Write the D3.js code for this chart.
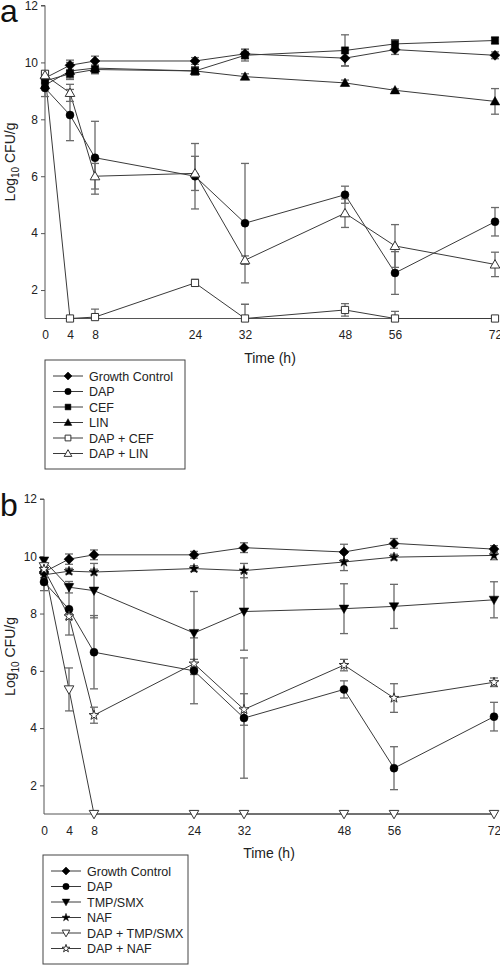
<!DOCTYPE html>
<html><head><meta charset="utf-8">
<script src="https://cdn.jsdelivr.net/npm/d3@7"></script>
<style>
html,body{margin:0;padding:0;background:#fff;}
svg{display:block;font-family:"Liberation Sans",Arial,sans-serif;}
</style></head>
<body>
<svg id="chart" width="500" height="965"></svg>
<script>
// ---- data ----
const times = [0, 4, 8, 24, 32, 48, 56, 72];
const xTicks = [0, 4, 8, 24, 32, 48, 56, 72];
const yTicks = [2, 4, 6, 8, 10, 12];

const gcMean = [9.45, 9.9, 10.05, 10.05, 10.3, 10.15, 10.45, 10.25];
const gcErr  = [0.1, 0.18, 0.17, 0.12, 0.17, 0.27, 0.17, 0.12];
const dapMean = [9.1, 8.15, 6.65, 6.0, 4.35, 5.35, 2.6, 4.4];
const dapErr  = [0.3, 0.9, 1.28, 1.15, 2.1, 0.3, 0.75, 0.5];

// panel a
const cefMean = [9.35, 9.6, 9.75, 9.7, 10.25, 10.42, 10.65, 10.77];
const cefErr  = [0.1, 0.15, 0.15, 0.15, 0.2, 0.55, 0.15, 0.12];
const linMean = [9.2, 9.7, 9.8, 9.7, 9.5, 9.28, 9.02, 8.63];
const linErr  = [0.1, 0.3, 0.1, 0.1, 0.1, 0.1, 0.05, 0.45];
const dapCefMean = [9.6, 1.0, 1.05, 2.25, 1.0, 1.3, 1.0, 1.0];
const dapCefErr  = [0.1, 0, 0.28, 0.12, 0.5, 0.22, 0.25, 0];
const dapLinMean = [9.55, 8.93, 6.0, 6.1, 3.05, 4.7, 3.55, 2.9];
const dapLinErr  = [0.1, 0.3, 0.45, 0.6, 0.15, 0.5, 0.75, 0.43];

// panel b
const tmpMean = [9.85, 8.92, 8.8, 7.32, 8.07, 8.17, 8.25, 8.48];
const tmpErr  = [0.1, 0.2, 0.95, 1.45, 1.35, 0.87, 0.77, 0.63];
const nafMean = [9.35, 9.48, 9.45, 9.57, 9.5, 9.8, 9.97, 10.03];
const nafErr  = [0.1, 0.1, 0.1, 0.1, 0.25, 0.3, 0.1, 0.15];
const dapTmpMean = [9.65, 5.35, 1.0, 1.0, 1.0, 1.0, 1.0, 1.0];
const dapTmpErr  = [0.1, 0.75, 0.1, 0.1, 0, 0.1, 0, 0];
const dapNafMean = [9.55, 7.9, 4.45, 6.25, 4.65, 6.2, 5.05, 5.6];
const dapNafErr  = [0.1, 0.1, 0.28, 0.15, 0.55, 0.2, 0.5, 0.15];

const panelA = [
  {name: "Growth Control", mean: gcMean, err: gcErr, shape: "diamond", open: false},
  {name: "DAP", mean: dapMean, err: dapErr, shape: "circle", open: false},
  {name: "CEF", mean: cefMean, err: cefErr, shape: "square", open: false},
  {name: "LIN", mean: linMean, err: linErr, shape: "triangle", open: false},
  {name: "DAP + CEF", mean: dapCefMean, err: dapCefErr, shape: "square", open: true},
  {name: "DAP + LIN", mean: dapLinMean, err: dapLinErr, shape: "triangle", open: true}
];
const panelB = [
  {name: "Growth Control", mean: gcMean, err: gcErr, shape: "diamond", open: false},
  {name: "DAP", mean: dapMean, err: dapErr, shape: "circle", open: false},
  {name: "TMP/SMX", mean: tmpMean, err: tmpErr, shape: "down", open: false},
  {name: "NAF", mean: nafMean, err: nafErr, shape: "star", open: false},
  {name: "DAP + TMP/SMX", mean: dapTmpMean, err: dapTmpErr, shape: "down", open: true},
  {name: "DAP + NAF", mean: dapNafMean, err: dapNafErr, shape: "star", open: true}
];

const svg = d3.select("#chart");
const LINE = "#3a3a3a", ERR = "#6a6a6a", AXIS = "#555";

function shapePath(shape, k) {
  k = k || 1;
  switch (shape) {
    case "diamond": { const r = 5 * k; return `M0,${-r}L${r},0L0,${r}L${-r},0Z`; }
    case "circle": return d3.symbol(d3.symbolCircle, 50 * k * k)();
    case "square": { const h = 3.6 * k; return `M${-h},${-h}H${h}V${h}H${-h}Z`; }
    case "triangle": { const r = 4.8 * k; return `M0,${-r}L${r},${r * 0.75}L${-r},${r * 0.75}Z`; }
    case "down": { const r = 4.8 * k; return `M0,${r}L${r},${-r * 0.75}L${-r},${-r * 0.75}Z`; }
    case "star": return d3.symbol(d3.symbolStar, 30 * k * k)();
  }
}

function drawPanel(cfg) {
  const {series, x0, x1, yTop, yBot, letter, letterY, legend, id} = cfg;
  const x = d3.scaleLinear().domain([0, 72]).range([x0, x1]);
  const y = d3.scaleLinear().domain([1, 12]).range([yBot, yTop]);
  const g = svg.append("g");

  g.append("clipPath").attr("id", "clip" + id).append("rect")
    .attr("x", x0 - 20).attr("y", yTop - 20).attr("width", x1 - x0 + 40).attr("height", yBot - yTop + 20);

  // axes
  const yAxis = d3.axisLeft(y).tickValues(yTicks).tickSize(4).tickPadding(3).tickFormat(d3.format("d"));
  const ya = g.append("g").attr("transform", `translate(${x0},0)`).call(yAxis);
  ya.select(".domain").attr("stroke", AXIS).attr("d", `M-4,${yTop}H0V${yBot}`);
  ya.selectAll(".tick line").attr("stroke", AXIS);
  ya.selectAll("text").attr("font-size", 12).attr("fill", "#222").attr("font-family", "Liberation Sans, Arial, sans-serif");

  const xAxis = d3.axisBottom(x).tickValues(xTicks).tickSize(0).tickPadding(12).tickFormat(d3.format("d"));
  const xa = g.append("g").attr("transform", `translate(0,${yBot})`).call(xAxis);
  xa.select(".domain").attr("stroke", AXIS).attr("d", `M${x0},0H${x1}`);
  xa.selectAll("text").attr("font-size", 12).attr("fill", "#222").attr("font-family", "Liberation Sans, Arial, sans-serif");

  // titles
  g.append("text").attr("x", (x0 + x1) / 2).attr("y", yBot + 44).attr("text-anchor", "middle")
    .attr("font-size", 14).attr("fill", "#222").text("Time (h)");
  const yl = g.append("text").attr("transform", `translate(15,${(yTop + yBot) / 2}) rotate(-90)`)
    .attr("text-anchor", "middle").attr("font-size", 14).attr("fill", "#222");
  yl.append("tspan").text("Log");
  yl.append("tspan").attr("font-size", 10).attr("dy", 4).text("10");
  yl.append("tspan").attr("dy", -4).text(" CFU/g");

  g.append("text").attr("x", 0).attr("y", letterY).attr("font-size", 32).attr("fill", "#111").text(letter);

  const line = d3.line().x((d, i) => x(times[i])).y(d => y(d));

  // lines
  g.append("g").selectAll("path").data(series).join("path")
    .attr("d", s => line(s.mean)).attr("fill", "none").attr("stroke", LINE).attr("stroke-width", 1);

  // error bars
  const eb = g.append("g").attr("clip-path", `url(#clip${id})`);
  series.forEach(s => {
    s.mean.forEach((m, i) => {
      const e = s.err[i];
      if (!e) return;
      const cx = x(times[i]);
      const yh = y(m + e), yl2 = y(m - e);
      eb.append("line").attr("x1", cx).attr("x2", cx).attr("y1", yh).attr("y2", yl2).attr("stroke", ERR).attr("stroke-width", 1.3);
      eb.append("line").attr("x1", cx - 4).attr("x2", cx + 4).attr("y1", yh).attr("y2", yh).attr("stroke", ERR).attr("stroke-width", 1.3);
      eb.append("line").attr("x1", cx - 4).attr("x2", cx + 4).attr("y1", yl2).attr("y2", yl2).attr("stroke", ERR).attr("stroke-width", 1.3);
    });
  });

  // markers
  series.forEach(s => {
    g.append("g").selectAll("path").data(s.mean).join("path")
      .attr("transform", (d, i) => `translate(${x(times[i])},${y(d)})`)
      .attr("d", shapePath(s.shape))
      .attr("fill", s.open ? "#fff" : "#000")
      .attr("stroke", s.open ? "#333" : "#000")
      .attr("stroke-width", s.open ? 1 : 0.5);
  });

  // legend
  const lg = g.append("g");
  lg.append("rect").attr("x", legend.x).attr("y", legend.y).attr("width", legend.w).attr("height", legend.h)
    .attr("fill", "#fff").attr("stroke", "#444").attr("stroke-width", 1);
  series.forEach((s, i) => {
    const cy = legend.y + 16 + i * 15.5;
    lg.append("line").attr("x1", legend.x + 8).attr("x2", legend.x + 38).attr("y1", cy).attr("y2", cy)
      .attr("stroke", LINE).attr("stroke-width", 1);
    lg.append("path").attr("transform", `translate(${legend.x + 23},${cy})`).attr("d", shapePath(s.shape, 0.8))
      .attr("fill", s.open ? "#fff" : "#000").attr("stroke", s.open ? "#333" : "#000").attr("stroke-width", s.open ? 1 : 0.5);
    lg.append("text").attr("x", legend.x + 44).attr("y", cy + 4.5).attr("font-size", 12.5).attr("fill", "#222").text(s.name);
  });
}

drawPanel({series: panelA, id: "a", x0: 45, x1: 495, yTop: 5.5, yBot: 318.5, letter: "a", letterY: 22,
  legend: {x: 45, y: 360, w: 140, h: 109}});
drawPanel({series: panelB, id: "b", x0: 44, x1: 494, yTop: 499, yBot: 814, letter: "b", letterY: 516,
  legend: {x: 43, y: 855, w: 145, h: 109}});
</script>
</body></html>
